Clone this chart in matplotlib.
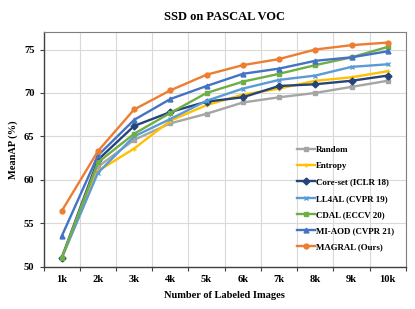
import matplotlib
matplotlib.use("Agg")
import matplotlib.pyplot as plt
import numpy as np

# x categories (number of labeled images)
budgets = ["1k", "2k", "3k", "4k", "5k", "6k", "7k", "8k", "9k", "10k"]

# mAP (%) per method
random_map = [51.0, 61.5, 64.6, 66.5, 67.6, 68.9, 69.5, 70.0, 70.7, 71.4]
entropy_map = [51.0, 61.0, 63.6, 66.8, 68.6, 69.8, 70.5, 71.4, 71.8, 72.5]
coreset_map = [51.0, 62.3, 66.2, 67.8, 69.0, 69.5, 70.8, 71.0, 71.4, 72.0]
ll4al_map = [51.0, 60.8, 65.0, 67.0, 69.1, 70.5, 71.5, 72.0, 73.0, 73.3]
cdal_map = [51.0, 62.0, 65.3, 67.7, 70.0, 71.3, 72.2, 73.2, 74.1, 75.3]
miaod_map = [53.5, 62.8, 66.9, 69.3, 70.8, 72.2, 72.8, 73.7, 74.1, 74.8]
magral_map = [56.4, 63.3, 68.1, 70.3, 72.1, 73.2, 73.9, 75.0, 75.5, 75.8]

methods = ["Random", "Entropy", "Core-set (ICLR 18)", "LL4AL (CVPR 19)",
           "CDAL (ECCV 20)", "MI-AOD (CVPR 21)", "MAGRAL (Ours)"]
series = [random_map, entropy_map, coreset_map, ll4al_map, cdal_map, miaod_map, magral_map]
colors = ["#A5A5A5", "#FFC000", "#264478", "#5B9BD5", "#70AD47", "#4472C4", "#ED7D31"]
markers = ["s", "+", "D", "x", "s", "^", "o"]

plt.rcParams["font.family"] = ["Liberation Serif", "DejaVu Serif"]
plt.rcParams["font.weight"] = "bold"

fig = plt.figure(figsize=(4.15, 3.09), dpi=100)
ax = fig.add_axes([0.105, 0.137, 0.873, 0.759])

x = np.arange(1, len(budgets) + 1)
for name, vals, c, m in zip(methods, series, colors, markers):
    ax.plot(x, vals, color=c, marker=m, markersize=3.5, markeredgewidth=1.0,
            linewidth=1.7, label=name)

ax.set_xlim(0.5, len(budgets) + 0.5)
ax.set_ylim(50, 77)
ax.set_yticks([50, 55, 60, 65, 70, 75])

# excel-style: ticks between categories, labels centered
ax.set_xticks(np.arange(0.5, len(budgets) + 1, 1.0))
ax.set_xticklabels([])
ax.set_xticks(x, minor=True)
ax.set_xticklabels(budgets, minor=True)
ax.tick_params(axis="x", which="minor", length=0, pad=6, labelsize=7.6)
ax.tick_params(axis="x", which="major", length=3, direction="out", color="#404040")
ax.tick_params(axis="y", length=3, direction="out", color="#404040", labelsize=7.6)

ax.grid(True, which="major", color="#D9D9D9", linewidth=0.8)
ax.set_axisbelow(True)

for side in ["left", "bottom"]:
    ax.spines[side].set_color("#404040")
    ax.spines[side].set_linewidth(1.0)
for side in ["top", "right"]:
    ax.spines[side].set_color("#7F7F7F")
    ax.spines[side].set_linewidth(0.8)

ax.set_title("SSD on PASCAL VOC", fontsize=9, fontweight="bold", pad=9)
ax.set_xlabel("Number of Labeled Images", fontsize=7.5, fontweight="bold", labelpad=5)
ax.set_ylabel("MeanAP (%)", fontsize=7.5, fontweight="bold", labelpad=4)

ax.legend(loc="upper left", bbox_to_anchor=(0.69, 0.53), frameon=False,
          fontsize=6.4, handlelength=2.0, handletextpad=0.1,
          labelspacing=0.9, borderaxespad=0)

fig.savefig("out.png", dpi=100)
